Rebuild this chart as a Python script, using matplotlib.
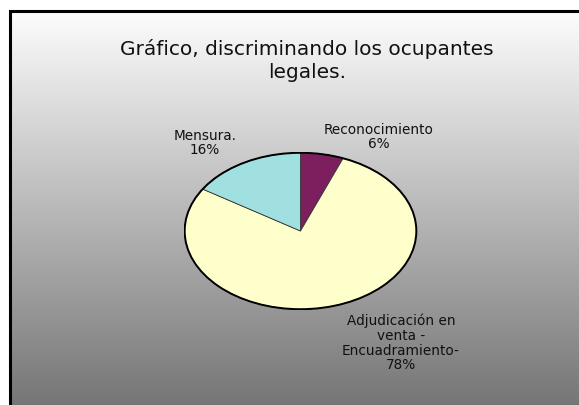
"""
Pie chart: ocupantes legales, con fondo degradado estilo Excel.
"""

import matplotlib

matplotlib.use("Agg")
import matplotlib.pyplot as plt
import numpy as np

W, H = 579, 405

titulo = "Gráfico, discriminando los ocupantes\nlegales."
categorias = ["Reconocimiento", "Adjudicación en\nventa -\nEncuadramiento-", "Mensura."]
porcentajes = [6, 78, 16]
colores = ["#7D1F5E", "#FFFFCC", "#A0E0E1"]

plt.rcParams["font.family"] = ["DejaVu Sans"]

fig = plt.figure(figsize=(W / 100, H / 100), dpi=100)

# fondo: marco con degradado blanco -> gris
bg = fig.add_axes([0, 0, 1, 1])
bg.axis("off")
grad = np.linspace(0, 1, 256).reshape(-1, 1)
bg.imshow(grad, cmap=matplotlib.colors.LinearSegmentedColormap.from_list(
    "g", ["#FDFDFD", "#747474"]), extent=(9, W + 5, H + 5, 10),
    aspect="auto", interpolation="bicubic")
bg.plot([9.5, 9.5, W + 5], [H + 5, 10.5, 10.5], color="black", lw=2.2,
        solid_joinstyle="miter", clip_on=False)
bg.set_xlim(0, W)
bg.set_ylim(H, 0)

# torta elíptica
cx, cy, rx, ry = 300.5, 231, 117, 79
ax = fig.add_axes([(cx - rx) / W, 1 - (cy + ry) / H, 2 * rx / W, 2 * ry / H])
wedges, _ = ax.pie(porcentajes, colors=colores, startangle=90, counterclock=False,
                   wedgeprops=dict(edgecolor="#333333", linewidth=0.6))
ax.set_aspect("auto")
ax.set_xlim(-1.01, 1.01)
ax.set_ylim(-1.01, 1.01)
# borde exterior negro
ax.add_patch(matplotlib.patches.Ellipse((0, 0), 2, 2, fill=False,
                                        edgecolor="black", linewidth=1.4))

# títulos y etiquetas (posiciones en píxeles)
fig.text(307 / W, 1 - 60.5 / H, titulo, ha="center", va="center", fontsize=14.5,
         linespacing=1.3, color="#111111")

pos_etiquetas = [(379, 137), (401, 343), (205, 143)]
for nombre, pct, (px, py) in zip(categorias, porcentajes, pos_etiquetas):
    fig.text(px / W, 1 - py / H, f"{nombre}\n{pct}%", ha="center", va="center",
             fontsize=9.8, linespacing=1.05, color="#111111")

fig.savefig("out.png", dpi=100)
